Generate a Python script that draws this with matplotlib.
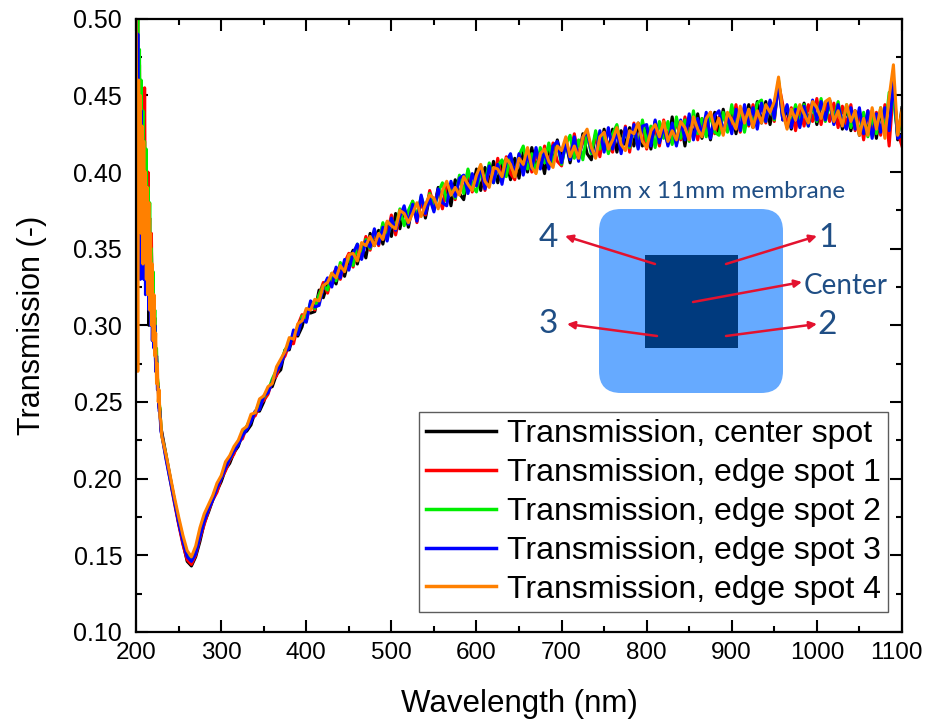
import numpy as np
import matplotlib
matplotlib.use("Agg")
import matplotlib.pyplot as plt
import matplotlib.transforms as mtransforms
from matplotlib.patches import FancyBboxPatch, Rectangle

plt.rcParams['font.family'] = ['Liberation Sans', 'DejaVu Sans']

# wavelength grid (nm): 1 nm steps in the noisy UV start, then 5 nm steps
wl = np.concatenate([np.arange(200, 231, 1), np.arange(235, 1101, 5)])

black_start = [0.48, 0.50, 0.38, 0.44, 0.42, 0.36, 0.44, 0.37, 0.42, 0.35, 0.41, 0.34, 0.40, 0.33, 0.38, 0.30,
               0.36, 0.32, 0.35, 0.30, 0.32, 0.29, 0.30, 0.27, 0.28, 0.262, 0.26, 0.246, 0.245, 0.233, 0.231]
red_start = [0.52, 0.46, 0.52, 0.40, 0.47, 0.39, 0.44, 0.38, 0.43, 0.36, 0.455, 0.35, 0.41, 0.34, 0.40, 0.33,
             0.37, 0.31, 0.36, 0.30, 0.33, 0.29, 0.305, 0.275, 0.28, 0.262, 0.262, 0.247, 0.246, 0.234, 0.230]
green_start = [0.51, 0.45, 0.50, 0.42, 0.48, 0.40, 0.46, 0.37, 0.44, 0.36, 0.42, 0.35, 0.415, 0.34, 0.39, 0.33,
               0.38, 0.31, 0.35, 0.30, 0.335, 0.29, 0.31, 0.28, 0.285, 0.266, 0.262, 0.25, 0.246, 0.236, 0.229]
blue_start = [0.50, 0.29, 0.49, 0.35, 0.45, 0.33, 0.44, 0.34, 0.41, 0.33, 0.40, 0.32, 0.39, 0.33, 0.37, 0.31,
              0.36, 0.30, 0.34, 0.29, 0.32, 0.285, 0.30, 0.27, 0.28, 0.258, 0.26, 0.244, 0.244, 0.231, 0.229]
orange_start = [0.50, 0.40, 0.27, 0.46, 0.38, 0.45, 0.36, 0.43, 0.34, 0.42, 0.35, 0.40, 0.33, 0.39, 0.32, 0.38,
                0.31, 0.36, 0.30, 0.34, 0.29, 0.32, 0.28, 0.295, 0.262, 0.275, 0.25, 0.258, 0.24, 0.238, 0.228]

center_spot = black_start + [
    0.216, 0.201, 0.186, 0.171, 0.158, 0.146, 0.143, 0.149, 0.159, 0.171,
    0.178, 0.186, 0.192, 0.198, 0.206, 0.210, 0.217, 0.221, 0.229, 0.231,
    0.235, 0.244, 0.244, 0.250, 0.259, 0.260, 0.268, 0.271, 0.284, 0.284,
    0.295, 0.293, 0.299, 0.310, 0.308, 0.309, 0.323, 0.318, 0.327, 0.332,
    0.327, 0.339, 0.332, 0.343, 0.349, 0.340, 0.352, 0.344, 0.360, 0.352,
    0.362, 0.353, 0.367, 0.358, 0.373, 0.363, 0.376, 0.364, 0.379, 0.369,
    0.383, 0.370, 0.384, 0.376, 0.390, 0.377, 0.391, 0.378, 0.395, 0.386,
    0.382, 0.398, 0.388, 0.402, 0.388, 0.403, 0.393, 0.407, 0.393, 0.405,
    0.408, 0.395, 0.409, 0.396, 0.413, 0.400, 0.416, 0.403, 0.412, 0.399,
    0.417, 0.405, 0.421, 0.409, 0.420, 0.406, 0.420, 0.409, 0.425, 0.412,
    0.408, 0.425, 0.414, 0.428, 0.414, 0.428, 0.413, 0.427, 0.418, 0.429,
    0.417, 0.432, 0.417, 0.429, 0.415, 0.433, 0.420, 0.432, 0.418, 0.436,
    0.418, 0.433, 0.417, 0.435, 0.423, 0.438, 0.422, 0.434, 0.421, 0.439,
    0.425, 0.441, 0.427, 0.440, 0.425, 0.440, 0.431, 0.444, 0.429, 0.446,
    0.432, 0.446, 0.431, 0.445, 0.457, 0.434, 0.441, 0.428, 0.443, 0.432,
    0.445, 0.433, 0.445, 0.431, 0.445, 0.436, 0.447, 0.432, 0.443, 0.428,
    0.443, 0.427, 0.440, 0.424, 0.437, 0.426, 0.440, 0.422, 0.440, 0.426,
    0.429, 0.458, 0.421, 0.442]

edge_spot_1 = red_start + [
    0.214, 0.199, 0.184, 0.170, 0.157, 0.147, 0.144, 0.150, 0.161, 0.170,
    0.179, 0.186, 0.191, 0.200, 0.205, 0.212, 0.216, 0.224, 0.226, 0.234,
    0.239, 0.241, 0.248, 0.251, 0.255, 0.264, 0.267, 0.276, 0.280, 0.288,
    0.288, 0.300, 0.307, 0.303, 0.314, 0.310, 0.320, 0.328, 0.321, 0.332,
    0.337, 0.330, 0.341, 0.347, 0.338, 0.350, 0.346, 0.358, 0.349, 0.360,
    0.352, 0.366, 0.359, 0.372, 0.359, 0.372, 0.376, 0.367, 0.381, 0.367,
    0.381, 0.372, 0.388, 0.378, 0.388, 0.376, 0.392, 0.390, 0.382, 0.397,
    0.387, 0.401, 0.387, 0.398, 0.402, 0.388, 0.403, 0.394, 0.409, 0.395,
    0.410, 0.399, 0.395, 0.411, 0.401, 0.415, 0.400, 0.413, 0.403, 0.417,
    0.404, 0.419, 0.407, 0.404, 0.421, 0.410, 0.425, 0.410, 0.420, 0.424,
    0.413, 0.424, 0.410, 0.426, 0.417, 0.413, 0.430, 0.416, 0.430, 0.413,
    0.432, 0.418, 0.431, 0.415, 0.429, 0.428, 0.417, 0.434, 0.422, 0.419,
    0.434, 0.421, 0.436, 0.424, 0.435, 0.421, 0.435, 0.427, 0.439, 0.425,
    0.436, 0.425, 0.438, 0.428, 0.444, 0.426, 0.442, 0.430, 0.444, 0.432,
    0.444, 0.432, 0.446, 0.433, 0.458, 0.444, 0.429, 0.442, 0.427, 0.442,
    0.430, 0.444, 0.433, 0.448, 0.431, 0.445, 0.433, 0.445, 0.429, 0.443,
    0.430, 0.444, 0.427, 0.439, 0.421, 0.440, 0.426, 0.439, 0.424, 0.444,
    0.417, 0.454, 0.426, 0.417]

edge_spot_2 = green_start + [
    0.215, 0.200, 0.186, 0.173, 0.161, 0.151, 0.147, 0.152, 0.163, 0.174,
    0.181, 0.188, 0.195, 0.201, 0.208, 0.213, 0.219, 0.223, 0.229, 0.234,
    0.240, 0.243, 0.250, 0.253, 0.257, 0.265, 0.271, 0.276, 0.284, 0.288,
    0.295, 0.295, 0.306, 0.305, 0.315, 0.311, 0.320, 0.326, 0.323, 0.334,
    0.329, 0.341, 0.336, 0.345, 0.339, 0.353, 0.346, 0.356, 0.350, 0.362,
    0.354, 0.367, 0.356, 0.369, 0.364, 0.376, 0.365, 0.375, 0.381, 0.371,
    0.384, 0.375, 0.386, 0.375, 0.387, 0.393, 0.381, 0.389, 0.383, 0.398,
    0.386, 0.402, 0.391, 0.387, 0.401, 0.393, 0.406, 0.393, 0.404, 0.408,
    0.397, 0.411, 0.397, 0.411, 0.417, 0.402, 0.412, 0.400, 0.416, 0.406,
    0.419, 0.406, 0.418, 0.405, 0.418, 0.424, 0.409, 0.421, 0.408, 0.425,
    0.412, 0.427, 0.415, 0.425, 0.412, 0.425, 0.431, 0.416, 0.428, 0.416,
    0.430, 0.416, 0.434, 0.420, 0.430, 0.416, 0.433, 0.422, 0.433, 0.418,
    0.436, 0.422, 0.434, 0.420, 0.440, 0.425, 0.435, 0.423, 0.438, 0.426,
    0.424, 0.439, 0.426, 0.444, 0.430, 0.440, 0.426, 0.441, 0.431, 0.445,
    0.447, 0.433, 0.445, 0.434, 0.460, 0.437, 0.443, 0.431, 0.444, 0.431,
    0.444, 0.430, 0.444, 0.433, 0.448, 0.433, 0.444, 0.434, 0.446, 0.431,
    0.444, 0.429, 0.439, 0.425, 0.439, 0.423, 0.435, 0.425, 0.442, 0.426,
    0.452, 0.448, 0.424, 0.437]

edge_spot_3 = blue_start + [
    0.213, 0.199, 0.185, 0.171, 0.159, 0.149, 0.146, 0.151, 0.162, 0.172,
    0.180, 0.186, 0.194, 0.200, 0.207, 0.213, 0.218, 0.222, 0.228, 0.232,
    0.237, 0.244, 0.245, 0.254, 0.256, 0.263, 0.270, 0.274, 0.283, 0.285,
    0.297, 0.294, 0.304, 0.302, 0.316, 0.312, 0.313, 0.325, 0.331, 0.325,
    0.338, 0.331, 0.343, 0.336, 0.347, 0.353, 0.343, 0.355, 0.351, 0.363,
    0.353, 0.364, 0.355, 0.370, 0.362, 0.371, 0.378, 0.366, 0.379, 0.368,
    0.385, 0.373, 0.383, 0.374, 0.389, 0.380, 0.378, 0.394, 0.384, 0.396,
    0.398, 0.386, 0.399, 0.391, 0.404, 0.389, 0.404, 0.393, 0.405, 0.392,
    0.407, 0.412, 0.398, 0.412, 0.398, 0.412, 0.402, 0.416, 0.402, 0.414,
    0.402, 0.417, 0.420, 0.406, 0.419, 0.408, 0.423, 0.407, 0.423, 0.426,
    0.414, 0.410, 0.427, 0.413, 0.429, 0.415, 0.427, 0.412, 0.429, 0.417,
    0.431, 0.415, 0.430, 0.431, 0.417, 0.434, 0.419, 0.430, 0.417, 0.432,
    0.417, 0.434, 0.421, 0.438, 0.421, 0.435, 0.424, 0.439, 0.422, 0.437,
    0.440, 0.426, 0.437, 0.425, 0.441, 0.427, 0.444, 0.431, 0.442, 0.428,
    0.445, 0.433, 0.447, 0.435, 0.458, 0.434, 0.444, 0.429, 0.441, 0.429,
    0.443, 0.430, 0.447, 0.434, 0.446, 0.434, 0.447, 0.431, 0.444, 0.432,
    0.428, 0.442, 0.428, 0.442, 0.425, 0.440, 0.422, 0.438, 0.426, 0.442,
    0.427, 0.460, 0.422, 0.424]

edge_spot_4 = orange_start + [
    0.216, 0.202, 0.188, 0.175, 0.163, 0.153, 0.149, 0.156, 0.168, 0.177,
    0.183, 0.189, 0.197, 0.202, 0.211, 0.215, 0.221, 0.225, 0.232, 0.234,
    0.242, 0.243, 0.252, 0.254, 0.260, 0.262, 0.273, 0.278, 0.283, 0.292,
    0.291, 0.301, 0.303, 0.311, 0.310, 0.317, 0.316, 0.326, 0.328, 0.334,
    0.331, 0.339, 0.335, 0.346, 0.347, 0.342, 0.354, 0.352, 0.358, 0.352,
    0.360, 0.356, 0.368, 0.365, 0.363, 0.375, 0.373, 0.367, 0.373, 0.380,
    0.371, 0.379, 0.385, 0.383, 0.376, 0.388, 0.394, 0.385, 0.390, 0.385,
    0.397, 0.392, 0.388, 0.398, 0.405, 0.394, 0.390, 0.403, 0.402, 0.397,
    0.409, 0.405, 0.397, 0.409, 0.405, 0.416, 0.403, 0.399, 0.412, 0.415,
    0.407, 0.403, 0.417, 0.414, 0.423, 0.410, 0.417, 0.409, 0.423, 0.428,
    0.416, 0.409, 0.423, 0.426, 0.415, 0.421, 0.429, 0.418, 0.414, 0.427,
    0.425, 0.432, 0.420, 0.416, 0.427, 0.431, 0.423, 0.433, 0.420, 0.427,
    0.421, 0.433, 0.429, 0.421, 0.436, 0.428, 0.423, 0.435, 0.439, 0.428,
    0.435, 0.424, 0.439, 0.434, 0.428, 0.443, 0.432, 0.441, 0.429, 0.440,
    0.432, 0.444, 0.439, 0.446, 0.462, 0.439, 0.428, 0.441, 0.434, 0.444,
    0.438, 0.432, 0.446, 0.442, 0.435, 0.446, 0.448, 0.433, 0.440, 0.430,
    0.444, 0.433, 0.440, 0.424, 0.435, 0.424, 0.442, 0.428, 0.442, 0.422,
    0.449, 0.470, 0.424, 0.440]

labels = ["Transmission, center spot", "Transmission, edge spot 1",
          "Transmission, edge spot 2", "Transmission, edge spot 3",
          "Transmission, edge spot 4"]
colors = ["#000000", "#ff0000", "#00ee00", "#0000ff", "#ff8000"]
series = [center_spot, edge_spot_1, edge_spot_2, edge_spot_3, edge_spot_4]

fig = plt.figure(figsize=(9.26, 7.23), dpi=100)
ax = fig.add_axes([0.147, 0.126, 0.827, 0.848])

for y, c, lab in zip(series, colors, labels):
    ax.plot(wl, y, color=c, lw=2.2, label=lab)

ax.set_xlim(200, 1100)
ax.set_ylim(0.10, 0.50)
ax.set_xticks(np.arange(200, 1101, 100))
ax.set_xticks(np.arange(250, 1100, 100), minor=True)
ax.set_yticks(np.arange(0.10, 0.501, 0.05))
ax.set_yticks(np.arange(0.125, 0.5, 0.05), minor=True)
ax.yaxis.set_major_formatter(matplotlib.ticker.FormatStrFormatter('%.2f'))
ax.tick_params(which='both', direction='in', top=True, right=True, width=1.5)
ax.tick_params(which='major', length=8.5)
ax.tick_params(which='minor', length=4.5)
ax.tick_params(axis='y', which='major', pad=10, labelsize=18)
ax.tick_params(axis='x', which='major', pad=7, labelsize=17.5)
for s in ax.spines.values():
    s.set_linewidth(1.6)

# nudge the last x tick label slightly left so it stays inside the canvas
last = ax.xaxis.get_major_ticks()[-1].label1
last.set_transform(last.get_transform() +
                   mtransforms.ScaledTranslation(-4 / 72, 0, fig.dpi_scale_trans))

ax.set_xlabel("Wavelength (nm)", fontsize=22.5, labelpad=18)
ax.set_ylabel("Transmission (-)", fontsize=22, labelpad=19)

leg = ax.legend(loc='lower right', bbox_to_anchor=(0.982, 0.033), borderaxespad=0,
                fontsize=23, frameon=True, fancybox=False, edgecolor='#333333',
                handlelength=2.2, handletextpad=0.35, labelspacing=0.28,
                borderpad=0.22)
leg.get_frame().set_linewidth(1.0)
for h in leg.get_lines():
    h.set_linewidth(2.5)

# membrane sketch (figure pixel coordinates)
ov = fig.add_axes([0, 0, 1, 1], zorder=5)
ov.set_xlim(0, 926)
ov.set_ylim(723, 0)
ov.axis('off')
ov.patch.set_alpha(0)

r = 22
ov.add_patch(FancyBboxPatch((599 + r, 209 + r), 184 - 2 * r, 184 - 2 * r,
                            boxstyle=f"round,pad={r},rounding_size={r}",
                            facecolor='#66aaff', edgecolor='none'))
ov.add_patch(Rectangle((645, 255), 93, 93, facecolor='#003a7e', edgecolor='none'))

tc = '#1f4e85'
ov.text(705, 191, "11mm x 11mm membrane", ha='center', va='center',
        fontsize=17.5, color=tc, family=['Lato', 'DejaVu Sans'])
for txt, x, y, fs in [("4", 548, 238, 24), ("1", 828, 238, 24), ("Center", 846, 286, 20),
                      ("3", 548, 324, 24), ("2", 827, 325, 24)]:
    ov.text(x, y, txt, ha='center', va='center', fontsize=fs, color=tc,
            family=['Lato', 'DejaVu Sans'])

red = '#e3122f'
for (x0, y0), (x1, y1) in [((655, 264), (565, 236)), ((726, 264), (817, 236)),
                           ((693, 302), (802, 282)), ((657, 336), (567, 324)),
                           ((726, 336), (817, 324))]:
    ov.annotate('', xy=(x1, y1), xytext=(x0, y0),
                arrowprops=dict(arrowstyle='-|>', color=red, lw=1.8,
                                mutation_scale=11, shrinkA=0, shrinkB=0))

fig.savefig("out.png", dpi=100)
